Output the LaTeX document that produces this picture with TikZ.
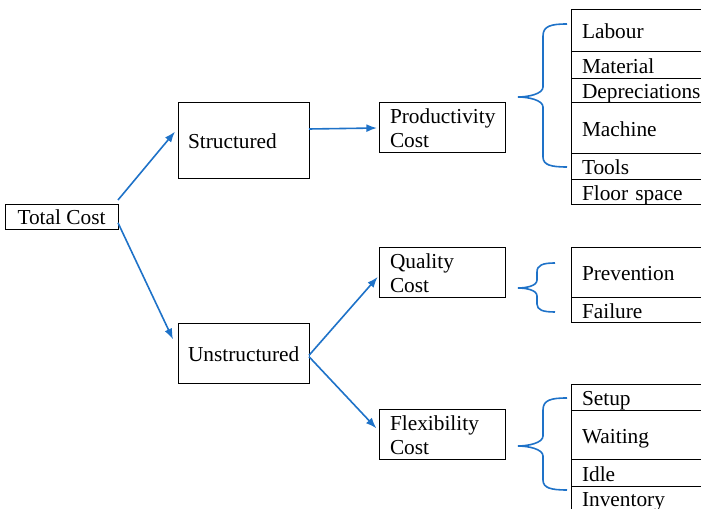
\documentclass[tikz,border=0pt]{standalone}
\usepackage{fontspec}
\setmainfont{Liberation Serif}
\usetikzlibrary{arrows.meta}

\definecolor{linkblue}{RGB}{30,114,200}

\begin{document}
\begin{tikzpicture}[x=0.75pt, y=-0.75pt,
every node/.style={font=\fontsize{16}{18}\selectfont, outer sep=0pt},
costnode/.style={draw, line width=0.75pt, anchor=north west, inner ysep=0pt},
groupnode/.style={costnode, inner xsep=7.5pt, text width=83.25pt, align=left},
kindnode/.style={costnode, inner xsep=8.25pt, text width=78pt, minimum height=37.5pt, align=left},
itemnode/.style={costnode, inner xsep=8.25pt, text width=95.25pt, align=left, text height=13pt, text depth=1pt},
link/.style={draw=linkblue, line width=1.2pt, -{Latex[length=8pt,width=6pt]}},
curly/.style={draw=linkblue, line width=1.2pt},
]
\useasboundingbox (0,0) rectangle (701,509);
\clip (0,0) rectangle (701,509);

\node[costnode, minimum width=84.75pt, minimum height=18.75pt] (tc) at (5,205) {Total Cost};
\node[groupnode, minimum height=57pt]   (st) at (178,103) {Structured};
\node[groupnode, minimum height=45pt]   (un) at (178,324) {Unstructured};
\node[kindnode]                         (pc) at (379,103) {Productivity\\Cost};
\node[kindnode]                         (qc) at (379,248) {Quality\\Cost};
\node[kindnode]                         (fc) at (379,410) {Flexibility\\Cost};

% productivity items
\node[itemnode, minimum height=31.5pt]  (p1) at (571,10) {Labour};
\node[itemnode, minimum height=20.25pt] (p2) at (p1.south west) {Material};
\node[itemnode, minimum height=18pt]    (p3) at (p2.south west) {Depreciations};
\node[itemnode, minimum height=38.25pt] (p4) at (p3.south west) {Machine};
\node[itemnode, minimum height=19.5pt]  (p5) at (p4.south west) {Tools};
\node[itemnode, minimum height=18.75pt] (p6) at (p5.south west) {Floor space};

% quality items
\node[itemnode, minimum height=37.5pt]  (q1) at (571,248) {Prevention};
\node[itemnode, minimum height=18.75pt] (q2) at (q1.south west) {Failure};

% flexibility items
\node[itemnode, minimum height=19.5pt]  (f1) at (571,385) {Setup};
\node[itemnode, minimum height=36.75pt] (f2) at (f1.south west) {Waiting};
\node[itemnode, minimum height=20.25pt] (f3) at (f2.south west) {Idle};
\node[itemnode, minimum height=17.25pt] (f4) at (f3.south west) {Inventory};

\draw[link] ([yshift=3.75pt]tc.north east) -- ([shift={(-2.25pt,7pt)}]st.west);
\draw[link] ([yshift=-4pt]tc.east) -- ([shift={(-3.75pt,11pt)}]un.west);
\draw[link] ([yshift=9pt]st.east) -- ([xshift=-1.5pt]pc.west);
\draw[link] ([yshift=-1pt]un.east) -- ([shift={(-1pt,-3pt)}]qc.west);
\draw[link] ([yshift=-2pt]un.east) -- ([shift={(-2pt,5pt)}]fc.west);

% braces
\coordinate (pb1) at (567,24);
\coordinate (ptip) at (518,97);
\coordinate (pb2) at (567,167);
\coordinate (qb1) at (555,263);
\coordinate (qtip) at (518,288);
\coordinate (qb2) at (555,312);
\coordinate (fb1) at (567,398);
\coordinate (ftip) at (518,446);
\coordinate (fb2) at (567,490);
\draw[curly] (pb1) .. controls (551,24) and (543,26) .. (543,36) -- (543,87)
  .. controls (543,94) and (528,97) .. (ptip)
  .. controls (528,97) and (543,100) .. (543,107) -- (543,157)
  .. controls (543,165) and (551,167) .. (pb2);
\draw[curly] (qb1) .. controls (543,263) and (537,265) .. (537,272) -- (537,280)
  .. controls (537,286) and (526,288) .. (qtip)
  .. controls (526,288) and (537,290) .. (537,296) -- (537,304)
  .. controls (537,310) and (543,312) .. (qb2);
\draw[curly] (fb1) .. controls (551,398) and (543,400) .. (543,410) -- (543,436)
  .. controls (543,443) and (528,446) .. (ftip)
  .. controls (528,446) and (543,449) .. (543,456) -- (543,480)
  .. controls (543,488) and (551,490) .. (fb2);
\end{tikzpicture}
\end{document}
